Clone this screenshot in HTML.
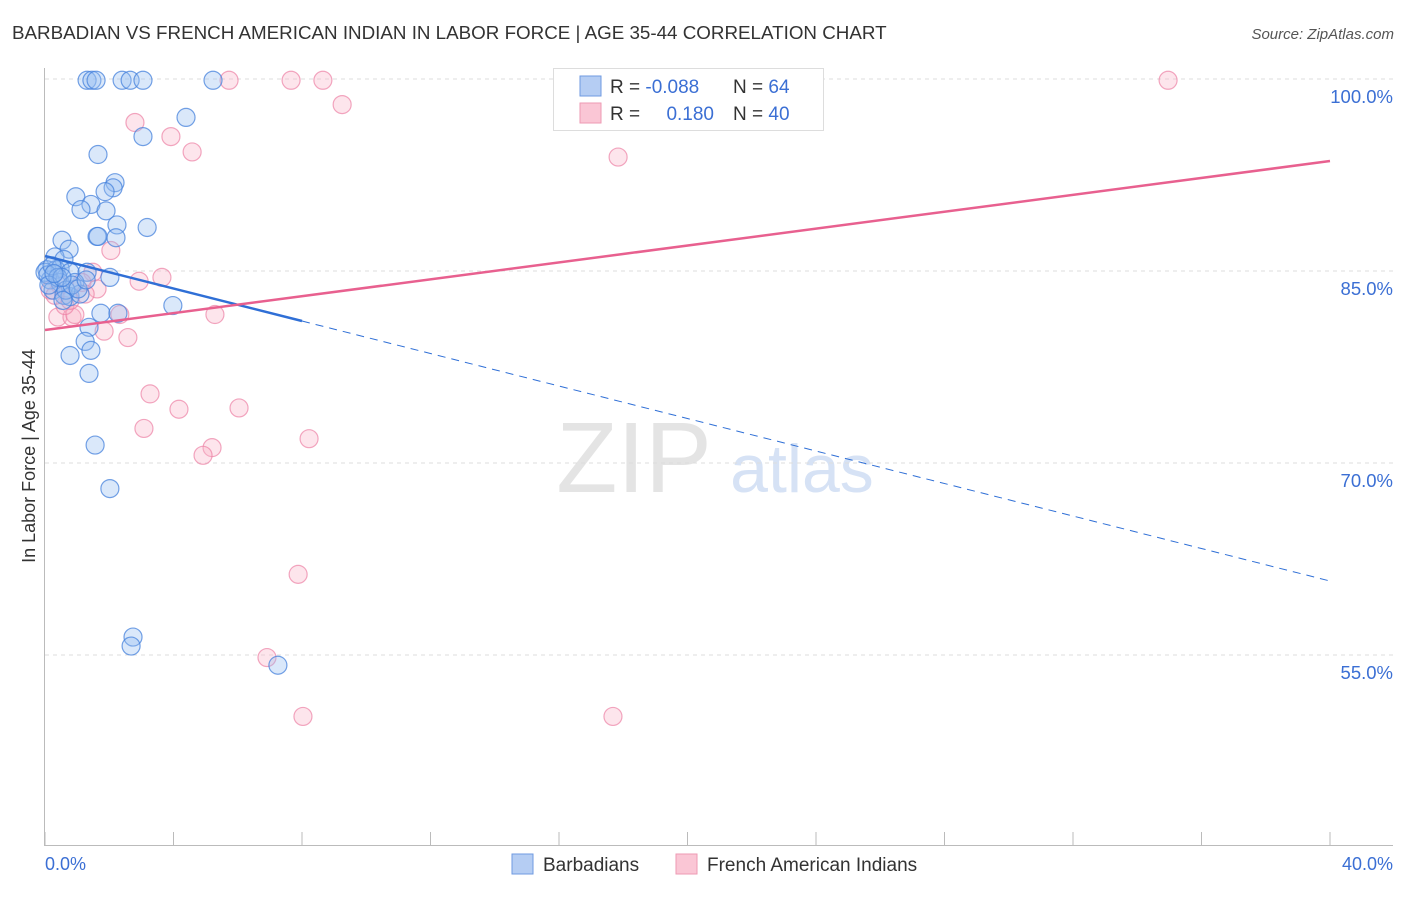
<!DOCTYPE html>
<html><head><meta charset="utf-8"><style>
body{margin:0;background:#fff;font-family:"Liberation Sans",sans-serif;}
svg text{font-family:"Liberation Sans",sans-serif;}
</style></head><body>
<svg id="chart" width="1406" height="892" viewBox="0 0 1406 892" xmlns="http://www.w3.org/2000/svg">
<text x="12" y="39" font-size="18.8" fill="#333">BARBADIAN VS FRENCH AMERICAN INDIAN IN LABOR FORCE | AGE 35-44 CORRELATION CHART</text>
<text x="1394" y="39" font-size="15" fill="#555" font-style="italic" text-anchor="end">Source: ZipAtlas.com</text>
<g>
<text x="634" y="492" font-size="100" fill="#e4e4e4" font-family="Liberation Serif" text-anchor="middle">ZIP</text>
<text x="802" y="492" font-size="68" fill="#d6e2f5" text-anchor="middle">atlas</text>
</g>
<g id="grid"></g>
<g id="axes"></g>
<g id="points-fr"></g>
<g id="points-bb"></g>
<g id="lines"></g>
<text x="35" y="456" font-size="18" fill="#333" text-anchor="middle" transform="rotate(-90 35 456)">In Labor Force | Age 35-44</text>
<text x="45" y="870" font-size="18" fill="#3b6fd4">0.0%</text>
<text x="1393" y="870" font-size="18" fill="#3b6fd4" text-anchor="end">40.0%</text>
<g>
<rect x="553.5" y="68.5" width="270" height="62" fill="#fff" stroke="#ddd"/>
<rect x="580" y="76" width="21" height="20" fill="#b5cdf3" stroke="#6f9ae0"/>
<rect x="580" y="103" width="21" height="20" fill="#fac6d5" stroke="#ee9ab3"/>
<text x="610" y="93" font-size="19" fill="#333">R = <tspan fill="#3b6fd4">-0.088</tspan></text>
<text x="733" y="93" font-size="19" fill="#333">N = <tspan fill="#3b6fd4">64</tspan></text>
<text x="610" y="120" font-size="19" fill="#333">R = </text>
<text x="714" y="120" font-size="19" fill="#3b6fd4" text-anchor="end">0.180</text>
<text x="733" y="120" font-size="19" fill="#333">N = <tspan fill="#3b6fd4">40</tspan></text>
</g>
<g>
<rect x="512" y="854" width="21" height="20" fill="#b5cdf3" stroke="#6f9ae0"/>
<text x="543" y="871" font-size="19" fill="#333">Barbadians</text>
<rect x="676" y="854" width="21" height="20" fill="#fac6d5" stroke="#ee9ab3"/>
<text x="707" y="871" font-size="19" fill="#333">French American Indians</text>
</g>
</svg>
<script>
const yTicks=[100,85,70,55];
const yTickLabels=["100.0%","85.0%","70.0%","55.0%"];
const xTicks=[0,4,8,12,16,20,24,28,32,36,40];
const bbX=[1.31,1.46,1.59,2.40,2.65,3.05,5.23,4.39,3.05,1.65,2.18,2.12,1.87,0.96,1.43,1.12,1.90,2.24,3.18,1.62,1.65,2.21,0.53,0.75,0.31,0.59,0.06,0.34,0.47,0.78,1.31,2.02,0.16,0.47,0.93,0.25,0.59,0.78,1.09,1.74,2.27,3.98,1.37,1.25,1.43,0.78,1.37,1.56,2.02,2.74,2.68,7.25,0.0,0.09,0.22,0.40,0.65,0.12,0.56,0.84,1.03,1.28,0.53,0.28];
const bbY=[99.9,99.9,99.9,99.9,99.9,99.9,99.9,97.0,95.5,94.1,91.9,91.5,91.2,90.8,90.2,89.8,89.7,88.6,88.4,87.7,87.7,87.6,87.4,86.7,86.1,85.9,85.1,85.1,85.2,84.9,84.9,84.5,84.3,84.1,84.1,83.5,83.1,83.0,83.2,81.7,81.7,82.3,80.6,79.5,78.8,78.4,77.0,71.4,68.0,56.4,55.7,54.2,84.9,84.7,85.4,84.5,83.5,83.9,82.7,83.9,83.6,84.3,84.5,84.8];
const frX=[5.73,7.66,8.65,34.96,9.25,2.80,3.92,4.58,17.84,2.05,1.49,3.64,2.93,1.15,1.62,1.25,0.40,0.84,0.93,2.33,5.29,1.84,2.58,3.27,4.17,6.04,3.08,8.22,5.20,4.92,7.88,6.91,8.03,17.68,23.66,0.16,0.62,0.47,0.78,0.31];
const frY=[99.9,99.9,99.9,99.9,98.0,96.6,95.5,94.3,93.9,86.6,84.9,84.5,84.2,84.1,83.6,83.2,81.4,81.4,81.6,81.6,81.6,80.3,79.8,75.4,74.2,74.3,72.7,71.9,71.2,70.6,61.3,54.8,50.2,50.2,97.3,83.5,82.3,83.9,82.7,83.1];
const bbLine=[86.17,60.78], bbSolidEnd=8.0;
const frLine=[80.39,93.59];
const X=v=>45+v*32.125, Y=v=>79+(100-v)*12.8;
const NS="http://www.w3.org/2000/svg";
function mk(tag,attrs,parent){const e=document.createElementNS(NS,tag);for(const k in attrs)e.setAttribute(k,attrs[k]);parent.appendChild(e);return e;}
const grid=document.getElementById('grid'),axes=document.getElementById('axes');
yTicks.forEach((t,i)=>{
 const l=mk('line',{x1:45,x2:1393,y1:Y(t),y2:Y(t),stroke:'#ddd','stroke-dasharray':'4,4'},grid);
 
 
 const tx=mk('text',{x:1393,y:Y(t)+24,'font-size':18.5,fill:'#3b6fd4','text-anchor':'end'},grid);
 tx.textContent=yTickLabels[i];
 
 
});
mk('line',{x1:44.5,x2:44.5,y1:68,y2:846,stroke:'#bbb'},axes);
mk('line',{x1:44,x2:1393,y1:845.5,y2:845.5,stroke:'#bbb'},axes);
xTicks.forEach(t=>{
 const l=mk('line',{x1:X(t),x2:X(t),y1:832,y2:845,stroke:'#bbb'},axes);
 
 
});
const pf=document.getElementById('points-fr');
frX.forEach((x,i)=>{
 const c=mk('circle',{cx:X(x),cy:Y(frY[i]),r:9,fill:'rgba(248,180,200,0.35)',stroke:'rgba(236,130,165,0.7)','stroke-width':1.2},pf);
 
 
});
const pb=document.getElementById('points-bb');
bbX.forEach((x,i)=>{
 const c=mk('circle',{cx:X(x),cy:Y(bbY[i]),r:9,fill:'rgba(150,190,240,0.35)',stroke:'rgba(70,130,220,0.75)','stroke-width':1.2},pb);
 
 
});
const ln=document.getElementById('lines');
const bbAt=x=>bbLine[0]+(bbLine[1]-bbLine[0])*x/40;
let l1=mk('line',{x1:X(0),y1:Y(bbLine[0]),x2:X(bbSolidEnd),y2:Y(bbAt(bbSolidEnd)),stroke:'#2f6fd6','stroke-width':2.5},ln);


let l2=mk('line',{x1:X(bbSolidEnd),y1:Y(bbAt(bbSolidEnd)),x2:X(40),y2:Y(bbLine[1]),stroke:'#2f6fd6','stroke-width':1,'stroke-dasharray':'8,6'},ln);


let l3=mk('line',{x1:X(0),y1:Y(frLine[0]),x2:X(40),y2:Y(frLine[1]),stroke:'#e8608f','stroke-width':2.5},ln);


</script>
</body></html>
